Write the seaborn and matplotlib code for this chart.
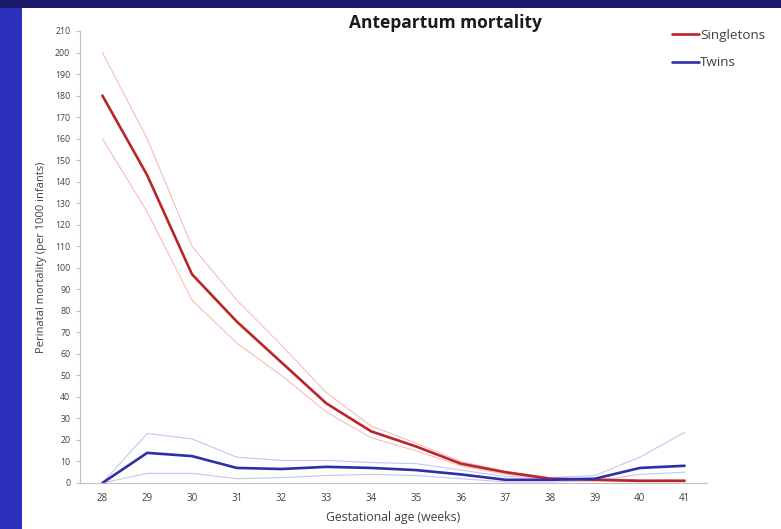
import numpy as np
import pandas as pd
import matplotlib
matplotlib.use('Agg')
import matplotlib.pyplot as plt
import seaborn as sns
from matplotlib.patches import Rectangle

weeks = [28, 29, 30, 31, 32, 33, 34, 35, 36, 37, 38, 39, 40, 41]

single = [180, 143, 97, 75, 56, 37, 24, 17, 9, 5, 2, 1.5, 1, 1]
single_hi = [200, 160, 110, 85, 64, 42, 26.5, 18.5, 10, 5.5, 2.5, 2, 1.5, 1.5]
single_lo = [160, 126, 85, 65, 50, 33, 21, 15, 8, 4, 1.5, 1, 0.8, 0.8]

twins = [0, 14, 12.5, 7, 6.5, 7.5, 7, 6, 4, 1.5, 1.5, 2, 7, 8]
twins_hi = [0, 23, 20.5, 12, 10.5, 10.5, 9.5, 9, 6, 3, 2.5, 3.5, 12, 23.5]
twins_lo = [0, 4.5, 4.5, 2, 2.5, 3.5, 4, 3.5, 2, 0.5, 0.5, 1, 4, 5]

df = pd.DataFrame({'week': weeks, 'single': single, 'single_hi': single_hi,
                   'single_lo': single_lo, 'twins': twins, 'twins_hi': twins_hi,
                   'twins_lo': twins_lo})

sns.set_style('white')
plt.rcParams['font.family'] = ['Open Sans', 'DejaVu Sans']

fig = plt.figure(figsize=(7.81, 5.29), dpi=100)
fig.set_facecolor('#1b1b6c')
# slide background: blue strip on the left, white panel
fig.patches.append(Rectangle((0, 0), 22 / 781, 1 - 8 / 529, transform=fig.transFigure,
                             facecolor='#2e2ebc', edgecolor='none', zorder=-2))
fig.patches.append(Rectangle((22 / 781, 0), 1, 1 - 8 / 529, transform=fig.transFigure,
                             facecolor='white', edgecolor='none', zorder=-2))

ax = fig.add_axes([80 / 781, 1 - 483 / 529, (707 - 80) / 781, (483 - 31) / 529])
ax.set_facecolor('none')

red, red_l = '#bb2428', '#f8bcbc'
blue, blue_l = '#2f2fa8', '#c6c6f0'

sns.lineplot(data=df, x='week', y='single_hi', ax=ax, color=red_l, linewidth=0.8)
sns.lineplot(data=df, x='week', y='single_lo', ax=ax, color=red_l, linewidth=0.8)
sns.lineplot(data=df, x='week', y='twins_hi', ax=ax, color=blue_l, linewidth=0.8)
sns.lineplot(data=df, x='week', y='twins_lo', ax=ax, color=blue_l, linewidth=0.8)
sns.lineplot(data=df, x='week', y='single', ax=ax, color=red, linewidth=1.9, label='Singletons')
sns.lineplot(data=df, x='week', y='twins', ax=ax, color=blue, linewidth=1.9, label='Twins')

ax.set_xlim(27.5, 41.5)
ax.set_ylim(0, 210)
ax.set_xticks(weeks)
ax.set_xticks(np.arange(27.5, 41.6, 1), minor=True)
ax.set_yticks(range(0, 211, 10))
ax.tick_params(axis='x', which='major', length=0, labelsize=7, labelcolor='#404040', pad=7)
ax.tick_params(axis='x', which='minor', length=3, color='#bfbfbf', direction='out')
ax.tick_params(axis='y', length=3, color='#bfbfbf', direction='out', labelsize=6.3,
               labelcolor='#404040', left=True, pad=4)
for s in ['top', 'right']:
    ax.spines[s].set_visible(False)
for s in ['left', 'bottom']:
    ax.spines[s].set_color('#bfbfbf')
    ax.spines[s].set_linewidth(0.8)

ax.set_xlabel('Gestational age (weeks)', fontsize=8.8, color='#404040', labelpad=5)
ax.set_ylabel('Perinatal mortality (per 1000 infants)', fontsize=8, color='#404040', labelpad=6)

fig.text(445 / 781, 1 - 23 / 529, 'Antepartum mortality', ha='center', va='center',
         fontsize=12.5, fontweight='bold', color='#1a1a1a')

ax.legend(loc='upper left', bbox_to_anchor=(587 / 627, 1.016), frameon=False,
          fontsize=9.7, handlelength=2.0, handletextpad=0.05, labelspacing=1.05,
          labelcolor='#404040', borderaxespad=0)

fig.savefig('out.png', dpi=100, facecolor=fig.get_facecolor())
